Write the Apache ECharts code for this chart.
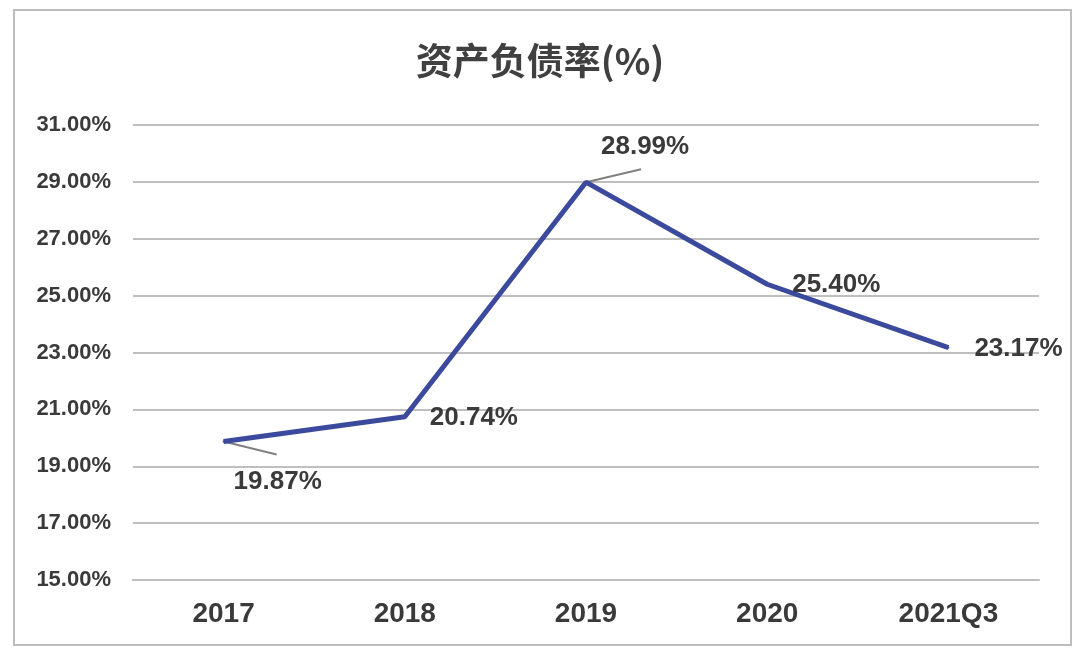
<!DOCTYPE html>
<html lang="zh-CN">

<head>
  <meta charset="UTF-8" />
  <title>资产负债率</title>
  <style>
    html, body { margin: 0; padding: 0; background: #fff; }
  </style>
</head>

<body>
  <div id="main" style="width: 1080px; height: 657px;"></div>
  <script src="https://cdn.jsdelivr.net/npm/echarts@6/dist/echarts.min.js"></script>
  <script type="text/javascript">
    // 数据
    const years = ['2017', '2018', '2019', '2020', '2021Q3']
    const debtRatio = [19.87, 20.74, 28.99, 25.40, 23.17]
    // 标签偏移 (label offset, px)
    const labelOffsets = [[4, 40], [19, 1], [9, -35], [19, 1], [20, 1]]
    // 引导线 (leader line end, px relative to point), null = none
    const leaderEnds = [[53, 13], null, [55, -13], null, null]

    const myChart = echarts.init(document.getElementById('main'))

    let data = debtRatio.map((v, i) => {
      return {
        value: v,
        label: { offset: labelOffsets[i] }
      }
    })

    let leaderData = []
    debtRatio.forEach((v, i) => {
      if (leaderEnds[i]) leaderData.push([i, v, leaderEnds[i][0], leaderEnds[i][1]])
    })

    const textFont = 'Liberation Sans, Arial, sans-serif'

    const option = {
      backgroundColor: '#fff',
      animation: false,
      title: {
        text: '资产负债率(%)',
        left: 'center',
        top: 37,
        textStyle: {
          fontFamily: 'Noto Sans CJK SC, sans-serif',
          fontSize: 37,
          fontWeight: 'bold',
          color: '#404040'
        }
      },
      graphic: [{
        type: 'rect',
        shape: { x: 14, y: 10, width: 1057, height: 635 },
        style: { fill: 'none', stroke: '#bdbdbd', lineWidth: 2 },
        silent: true
      }],
      grid: { left: 133, right: 41, top: 125, bottom: 77 },
      xAxis: {
        type: 'category',
        data: years,
        axisLine: { lineStyle: { color: '#bfbfbf', width: 2 } },
        axisTick: { show: false },
        axisLabel: {
          margin: 20,
          fontSize: 28,
          fontWeight: 'bold',
          fontFamily: textFont,
          color: '#3a3a3a'
        }
      },
      yAxis: {
        type: 'value',
        min: 15,
        max: 31,
        interval: 2,
        axisLine: { show: false },
        axisTick: { show: false },
        splitLine: { lineStyle: { color: '#bfbfbf', width: 2 } },
        axisLabel: {
          margin: 22,
          fontSize: 22,
          fontWeight: 'bold',
          fontFamily: textFont,
          color: '#3a3a3a',
          formatter: v => v.toFixed(2) + '%'
        }
      },
      series: [{
        type: 'custom',
        z: 1,
        silent: true,
        data: leaderData,
        renderItem(params, api) {
          let p = api.coord([api.value(0), api.value(1)])
          return {
            type: 'line',
            shape: { x1: p[0], y1: p[1], x2: p[0] + api.value(2), y2: p[1] + api.value(3) },
            style: { stroke: '#808080', lineWidth: 2 }
          }
        }
      }, {
        type: 'line',
        z: 2,
        data,
        symbol: 'circle',
        symbolSize: 2,
        showSymbol: true,
        itemStyle: { color: '#3b4a9c' },
        lineStyle: { color: '#3b4a9c', width: 5 },
        label: {
          show: true,
          position: 'right',
          distance: 5,
          fontSize: 26,
          fontWeight: 'bold',
          fontFamily: textFont,
          color: '#3a3a3a',
          formatter: p => p.value.toFixed(2) + '%'
        }
      }]
    }

    myChart.setOption(option)
  </script>
</body>

</html>
